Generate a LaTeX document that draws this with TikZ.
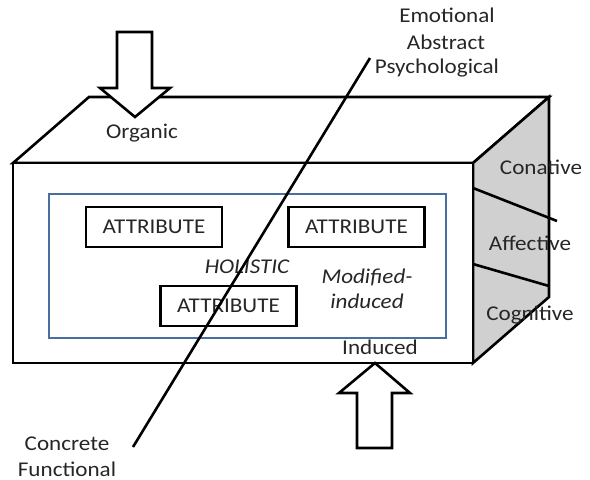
\documentclass[tikz,border=0pt]{standalone}
\usepackage{fontspec}
\setmainfont{Carlito}[FakeStretch=1.1]
\begin{document}
\begin{tikzpicture}[x=1pt,y=-1pt,
  edge/.style={line width=2.6pt,line join=miter},
  blockarrow/.style={draw,line width=2.6pt,fill=white,line join=miter},
  lbl/.style={inner sep=0pt,text=black!85,font=\fontsize{21}{25}\selectfont},
  itlbl/.style={lbl,font=\fontsize{21}{25}\selectfont\itshape},
  attr/.style={draw,line width=2.6pt,fill=white,minimum width=136pt,minimum height=40pt,
    inner sep=0pt,text=black!85,font=\fontsize{21}{25}\selectfont}]
\useasboundingbox (0,0) rectangle (590,480);
\definecolor{frameblue}{RGB}{74,110,160}
\definecolor{sidegray}{RGB}{208,208,208}

% corners of the box
\coordinate (fTL) at (13,163);
\coordinate (fTR) at (473,163);
\coordinate (fBR) at (473,363);
\coordinate (fBL) at (13,363);
\coordinate (bTL) at (89,97);
\coordinate (bTR) at (549,97);
\coordinate (bBR) at (549,297);

% top face, side face, front face
\draw[edge,fill=white] (fTL) -- (bTL) -- (bTR) -- (fTR) -- cycle;
\draw[edge,fill=sidegray] (fTR) -- (bTR) -- (bBR) -- (fBR) -- cycle;
\draw[edge,fill=white] (fTL) rectangle (fBR);

% bands on the side face
\coordinate (s1a) at (473,188);
\coordinate (s1b) at (557,221);
\coordinate (s2a) at (473,264);
\coordinate (s2b) at (549,286);
\draw[edge] (s1a) -- (s1b);
\draw[edge] (s2a) -- (s2b);

% inner frame
\draw[frameblue,line width=2pt] (49,194) rectangle (446,338);

% attribute boxes
\node[attr] (a1) at (154,227) {ATTRIBUTE};
\node[attr] (a2) at (356.5,227) {ATTRIBUTE};
\node[attr] (a3) at (228.5,306) {ATTRIBUTE};

\node[itlbl] (hol) at (247,267) {HOLISTIC};
\node[itlbl] (mod1) at (367,277) {Modified-};
\node[itlbl] (mod2) at (367,301) {induced};

% downward arrow at the top
\draw[blockarrow] (117,32) -- (152,32) -- (152,88) -- (170,88) -- (135,117)
  -- (100,88) -- (117,88) -- cycle;
% upward arrow at the bottom
\draw[blockarrow] (357,448) -- (392,448) -- (392,393) -- (410,393) -- (375,363)
  -- (339,393) -- (357,393) -- cycle;

% diagonal axis
\coordinate (dLow) at (133,447);
\coordinate (dHigh) at (370,58);
\draw[line width=2.6pt] (dLow) -- (dHigh);

% labels
\node[lbl] (org) at (142,133) {Organic};
\node[lbl] (ind) at (380,347) {Induced};
\node[lbl] (emo) at (447,15) {Emotional};
\node[lbl] (abs) at (446,42) {Abstract};
\node[lbl] (psy) at (437,68) {Psychological};
\node[lbl] (con) at (541,167) {Conative};
\node[lbl] (aff) at (530,243) {Affective};
\node[lbl] (cog) at (530,315) {Cognitive};
\node[lbl] (cc) at (67,444) {Concrete};
\node[lbl] (fn) at (67,469) {Functional};
\end{tikzpicture}
\end{document}
